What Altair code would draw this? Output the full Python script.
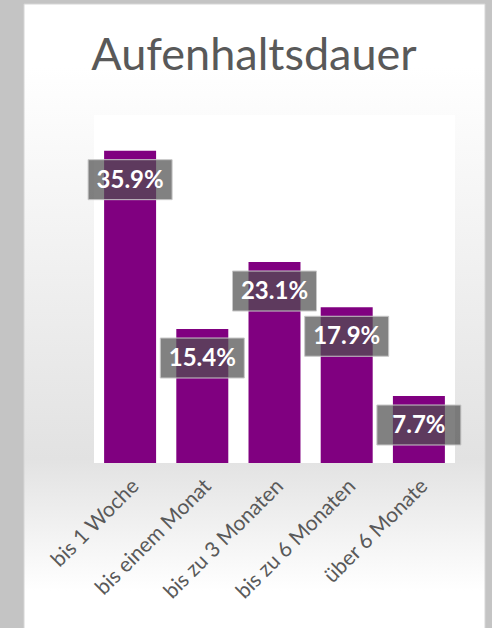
import altair as alt
import pandas as pd

title_text = "Aufenhaltsdauer"
categories = ["bis 1 Woche", "bis einem Monat", "bis zu 3 Monaten", "bis zu 6 Monaten", "über 6 Monate"]
values = [35.9, 15.4, 23.1, 17.9, 7.7]
labels = ["35.9%", "15.4%", "23.1%", "17.9%", "7.7%"]

df = pd.DataFrame({"cat": categories, "value": values, "label": labels})
one = pd.DataFrame({"a": [0]})

W, H = 361, 348

x_enc = alt.X(
    "cat:N",
    sort=categories,
    scale=alt.Scale(paddingInner=0.28, paddingOuter=0.14),
    axis=alt.Axis(
        title=None, labelAngle=-45, labelFontSize=21, labelColor="#595959",
        labelFont="Lato", domain=False, ticks=False, labelPadding=12, labelLimit=300,
        labelOffset=-2, zindex=1,
    ),
)
y_enc = alt.Y("value:Q", scale=alt.Scale(domain=[0, 40]), axis=None)

frame = alt.Chart(one).mark_rect(
    fill=alt.Gradient(
        gradient="linear", x1=0, y1=0, x2=0, y2=1,
        stops=[
            alt.GradientStop(color="#ffffff", offset=0),
            alt.GradientStop(color="#ffffff", offset=0.1),
            alt.GradientStop(color="#e2e2e2", offset=0.72),
            alt.GradientStop(color="#ffffff", offset=0.93),
            alt.GradientStop(color="#ffffff", offset=1),
        ],
    ),
    stroke="#d6d6d6", strokeWidth=1, clip=False,
).encode(x=alt.value(-70), x2=alt.value(391), y=alt.value(-111), y2=alt.value(520))

plotbg = alt.Chart(one).mark_rect(fill="white").encode(
    x=alt.value(0), x2=alt.value(W), y=alt.value(0), y2=alt.value(H)
)

title = alt.Chart(one).mark_text(
    text=title_text, font="Lato", fontSize=45, color="#595959", align="center", baseline="alphabetic"
).encode(x=alt.value(160), y=alt.value(-45))

bars = alt.Chart(df).mark_bar(color="#800080").encode(x=x_enc, y=y_enc)

box_shape = "M-1,-0.476L1,-0.476L1,0.476L-1,0.476Z"
boxes = alt.Chart(df).mark_point(
    shape=box_shape, size=84 * 84, filled=True, fill="#505050", fillOpacity=0.72,
    stroke="#c8c8c8", strokeWidth=1, opacity=1, yOffset=29,
).encode(x=alt.X("cat:N", sort=categories), y=alt.Y("value:Q"))

texts = alt.Chart(df).mark_text(
    font="Lato", fontSize=24, fontWeight="bold", color="white", yOffset=30, baseline="middle"
).encode(x=alt.X("cat:N", sort=categories), y=alt.Y("value:Q"), text="label:N")

chart = alt.layer(frame, plotbg, title, bars, boxes, texts).properties(
    width=W, height=H,
    autosize=alt.AutoSizeParams(type="none"),
    padding={"left": 94, "top": 115, "right": 37, "bottom": 165},
    background="#c4c4c4",
).configure_view(stroke=None)

chart.save("out.html", embed_options={"renderer": "svg", "actions": False})
